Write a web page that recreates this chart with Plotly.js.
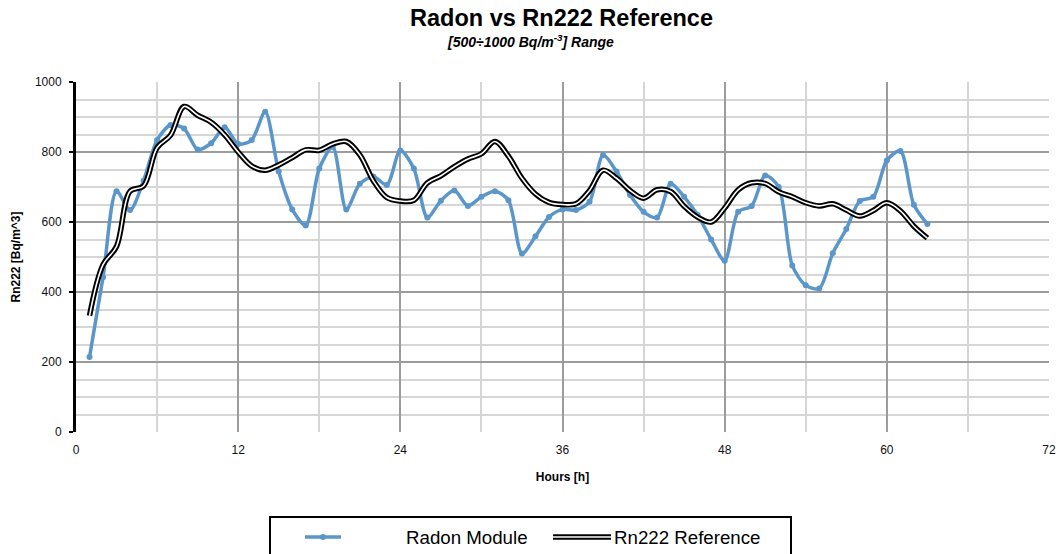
<!DOCTYPE html>
<html>
<head>
<meta charset="utf-8">
<script src="https://cdn.plot.ly/plotly-3.0.1.min.js"></script>
<style>html,body{margin:0;padding:0;background:#fff;}#chart{width:1061px;height:554px;}</style>
</head>
<body>
<div id="chart"></div>
<script>
// Hours (x)
const hours = [1,2,3,4,5,6,7,8,9,10,11,12,13,14,15,16,17,18,19,20,21,22,23,24,25,26,27,28,29,30,31,32,33,34,35,36,37,38,39,40,41,42,43,44,45,46,47,48,49,50,51,52,53,54,55,56,57,58,59,60,61,62,63];
// Radon Module readings [Bq/m^3]
const radonModule = [214,442,688,634,718,834,877,867,807,825,871,823,834,915,744,636,590,753,814,636,709,730,706,804,753,613,661,690,646,672,688,662,510,559,614,636,634,658,791,744,677,629,613,709,672,620,550,489,629,646,733,700,476,419,410,511,580,660,672,776,803,649,594];
// Rn222 Reference [Bq/m^3]
const rn222Reference = [332,478,530,688,703,812,848,930,905,885,849,800,760,748,763,784,806,805,823,830,792,718,670,660,662,712,732,758,780,795,830,788,725,680,656,650,652,690,748,725,690,668,692,687,645,614,600,640,692,712,710,686,672,655,646,652,634,617,633,655,632,588,554];

const xTicks = [0,12,24,36,48,60,72];
const yTicks = [0,200,400,600,800,1000];
const seriesNames = ['Radon Module', 'Rn222 Reference'];

const blue = '#5b96cb';
const traces = [
  {x: hours, y: radonModule, name: seriesNames[0], type: 'scatter', mode: 'lines+markers',
   line: {color: blue, width: 3.5, shape: 'spline', smoothing: 0.8},
   marker: {color: blue, size: 6}},
  {x: hours, y: rn222Reference, name: seriesNames[1], type: 'scatter', mode: 'lines',
   line: {color: '#000', width: 5.5, shape: 'spline', smoothing: 1}},
  {x: hours, y: rn222Reference, name: seriesNames[1] + ' (inner)', type: 'scatter', mode: 'lines',
   hoverinfo: 'skip',
   line: {color: '#fff', width: 1.6, shape: 'spline', smoothing: 1}}
];

// legend drawn in paper space below the plot (box, symbols, labels)
const px = v => (v - 76) / 973;       // horizontal pixel -> paper
const py = v => (432 - v) / 350;      // vertical pixel -> paper
const legY = py(537);
const shapes = [
  {type: 'rect', xref: 'paper', yref: 'paper', x0: px(270), x1: px(791), y0: py(590), y1: py(517),
   line: {color: '#000', width: 2}, fillcolor: 'rgba(0,0,0,0)'},
  {type: 'line', xref: 'paper', yref: 'paper', x0: px(305), x1: px(341), y0: legY, y1: legY,
   line: {color: blue, width: 3.5}},
  {type: 'circle', xref: 'paper', yref: 'paper', x0: px(320), x1: px(326), y0: py(540), y1: py(534),
   line: {color: blue, width: 0}, fillcolor: blue},
  {type: 'line', xref: 'paper', yref: 'paper', x0: px(553), x1: px(611), y0: legY, y1: legY,
   line: {color: '#000', width: 5.5}},
  {type: 'line', xref: 'paper', yref: 'paper', x0: px(553), x1: px(611), y0: legY, y1: legY,
   line: {color: '#fff', width: 1.6}}
];

const layout = {
  width: 1061, height: 554,
  margin: {l: 76, r: 12, t: 82, b: 122, autoexpand: false},
  paper_bgcolor: '#fff', plot_bgcolor: '#fff',
  font: {family: 'Liberation Sans, Arial, sans-serif', color: '#000', size: 12},
  showlegend: false,
  xaxis: {
    range: [0, 72], tickvals: xTicks, ticktext: xTicks.map(String),
    showgrid: true, gridcolor: '#9c9c9c', gridwidth: 2,
    minor: {dtick: 6, tick0: 0, showgrid: true, gridcolor: '#d6d6d6', gridwidth: 2},
    zeroline: false, showline: false, ticks: '', ticklabelstandoff: 9,
    tickfont: {size: 12, color: '#111'},
    title: {text: '<b>Hours [h]</b>', font: {size: 12, color: '#000'}, standoff: 16}
  },
  yaxis: {
    range: [0, 1000], tickvals: yTicks, ticktext: yTicks.map(String),
    showgrid: true, gridcolor: '#9c9c9c', gridwidth: 2,
    minor: {dtick: 50, tick0: 0, showgrid: true, gridcolor: '#d6d6d6', gridwidth: 2},
    zeroline: false, showline: true, linecolor: '#000', linewidth: 3,
    ticks: 'outside', ticklen: 4, tickwidth: 2, tickcolor: '#000', ticklabelstandoff: 5,
    tickfont: {size: 12, color: '#111'},
    title: {text: '<b>Rn222 [Bq/m^3]</b>', font: {size: 12, color: '#000'}, standoff: 12}
  },
  shapes: shapes,
  annotations: [
    {text: '<b>Radon vs Rn222 Reference</b>', xref: 'paper', yref: 'paper', x: px(561), y: py(18),
     xanchor: 'center', yanchor: 'middle', showarrow: false, font: {size: 23.5, color: '#000'}},
    {text: '<b><i>[500÷1000 Bq/m<sup>-3</sup>] Range</i></b>', xref: 'paper', yref: 'paper', x: px(530), y: py(41),
     xanchor: 'center', yanchor: 'middle', showarrow: false, font: {size: 14, color: '#000'}},
    {text: seriesNames[0], xref: 'paper', yref: 'paper', x: px(404), y: legY,
     xanchor: 'left', yanchor: 'middle', showarrow: false, font: {size: 18.7, color: '#000'}},
    {text: seriesNames[1], xref: 'paper', yref: 'paper', x: px(612), y: legY,
     xanchor: 'left', yanchor: 'middle', showarrow: false, font: {size: 18.7, color: '#000'}}
  ]
};

Plotly.newPlot('chart', traces, layout, {displayModeBar: false, staticPlot: true});
</script>
</body>
</html>
